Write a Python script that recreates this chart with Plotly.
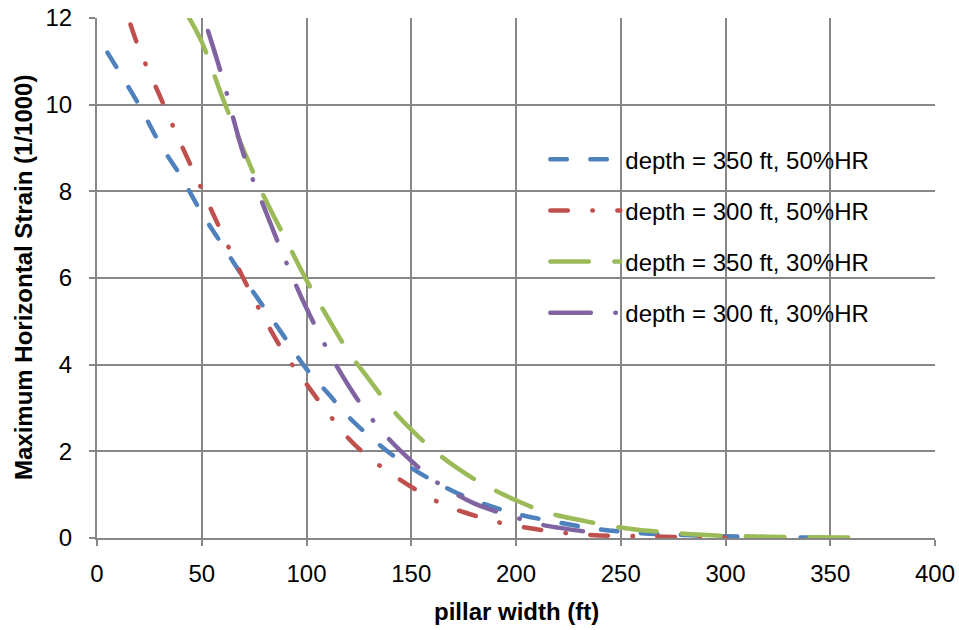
import plotly.graph_objects as go

# pillar width (ft) and maximum horizontal strain (1/1000)
x_350_50 = [5, 20, 30, 40, 50, 60, 70, 80, 90, 100, 110, 120, 130, 140, 150, 160, 170, 180, 190, 200, 220, 240, 260, 280, 300, 320, 345]
y_350_50 = [11.2, 10.0, 9.1, 8.35, 7.5, 6.75, 6.0, 5.3, 4.6, 3.9, 3.35, 2.8, 2.35, 1.95, 1.62, 1.33, 1.08, 0.87, 0.7, 0.56, 0.36, 0.2, 0.11, 0.07, 0.04, 0.02, 0.01]

x_300_50 = [16, 20, 30, 40, 50, 60, 70, 80, 90, 100, 110, 120, 130, 140, 150, 160, 170, 180, 190, 200, 210, 220, 230, 240, 260, 280, 300]
y_300_50 = [11.85, 11.3, 10.2, 9.1, 8.05, 7.0, 5.98, 5.05, 4.22, 3.55, 2.9, 2.3, 1.85, 1.5, 1.18, 0.9, 0.68, 0.52, 0.38, 0.28, 0.2, 0.13, 0.09, 0.06, 0.04, 0.02, 0.01]

x_350_30 = [44, 50, 60, 70, 80, 90, 100, 110, 120, 130, 140, 150, 160, 170, 180, 190, 200, 210, 220, 230, 240, 250, 260, 270, 280, 300, 320, 340, 360]
y_350_30 = [12.0, 11.45, 10.15, 8.95, 7.85, 6.9, 5.95, 5.1, 4.3, 3.65, 3.02, 2.5, 2.05, 1.68, 1.36, 1.1, 0.87, 0.67, 0.52, 0.42, 0.32, 0.24, 0.18, 0.14, 0.1, 0.05, 0.03, 0.02, 0.01]

x_300_30 = [53, 60, 70, 80, 90, 100, 110, 120, 130, 140, 150, 160, 170, 180, 190, 200, 210, 220, 230, 240]
y_300_30 = [11.7, 10.6, 8.85, 7.6, 6.4, 5.3, 4.35, 3.52, 2.82, 2.25, 1.78, 1.36, 1.05, 0.8, 0.62, 0.47, 0.33, 0.24, 0.17, 0.11]

series_names = ["depth = 350 ft, 50%HR", "depth = 300 ft, 50%HR",
                "depth = 350 ft, 30%HR", "depth = 300 ft, 30%HR"]
series_x = [x_350_50, x_300_50, x_350_30, x_300_30]
series_y = [y_350_50, y_300_50, y_350_30, y_300_30]
colors = ["#4F81BD", "#C0504D", "#9BBB59", "#8064A2"]
dashes = ["16.5px,23.5px", "17.5px,24.5px,0.5px,24.5px",
          "38.5px,25.5px", "40.5px,24.5px,0.5px,24.5px"]

x_ticks = [0, 50, 100, 150, 200, 250, 300, 350, 400]
y_ticks = [0, 2, 4, 6, 8, 10, 12]

FONT = "Liberation Sans"
GRID = "#878787"

fig = go.Figure()
for i in range(4):
    fig.add_trace(go.Scatter(
        x=series_x[i], y=series_y[i], name=series_names[i], mode="lines",
        line=dict(color=colors[i], width=4.5, dash=dashes[i], shape="spline", smoothing=1.0),
        legendgroup="g%d" % i,
    ))

fig.update_layout(
    width=959, height=630,
    margin=dict(l=97, r=24, t=18, b=92),
    paper_bgcolor="white", plot_bgcolor="white",
    font=dict(family=FONT, size=24, color="black"),
    showlegend=True,
    legend=dict(x=0.535, y=0.771, xanchor="left", yanchor="top",
                bgcolor="rgba(0,0,0,0)", font=dict(size=24, family=FONT),
                itemwidth=70, tracegroupgap=17, traceorder="grouped"),
    xaxis=dict(range=[0, 400], tickvals=x_ticks, showgrid=True, gridcolor=GRID, gridwidth=2,
               showline=True, linecolor=GRID, linewidth=2, ticks="outside", ticklen=6,
               tickwidth=2, tickcolor=GRID, zeroline=False, ticklabelstandoff=7,
               automargin=False,
               tickfont=dict(size=24, family=FONT, color="black")),
    yaxis=dict(range=[0, 12], tickvals=y_ticks, showgrid=True, gridcolor=GRID, gridwidth=2,
               showline=True, linecolor=GRID, linewidth=2, ticks="outside", ticklen=6,
               tickwidth=2, tickcolor=GRID, zeroline=False, ticklabelstandoff=12,
               automargin=False,
               tickfont=dict(size=24, family=FONT, color="black")),
    annotations=[
        dict(text="<b>pillar width (ft)</b>", x=0.5, y=0, xref="paper", yref="paper",
             xanchor="center", yanchor="middle", yshift=-73, showarrow=False,
             font=dict(size=24, family=FONT, color="black")),
        dict(text="<b>Maximum Horizontal Strain (1/1000)</b>", x=0, y=0.5, xref="paper",
             yref="paper", xanchor="center", yanchor="middle", xshift=-74, textangle=-90,
             showarrow=False, font=dict(size=24, family=FONT, color="black")),
    ],
)

post = ("document.body.style.margin='0';"
        "document.body.style.overflow='hidden';"
        "var s=document.createElement('style');"
        "s.textContent='body{margin:0 !important;} .js-line{stroke-linecap:round !important;}';"
        "document.head.appendChild(s);")
fig.write_html("out.html", post_script=post, config={"displayModeBar": False})
